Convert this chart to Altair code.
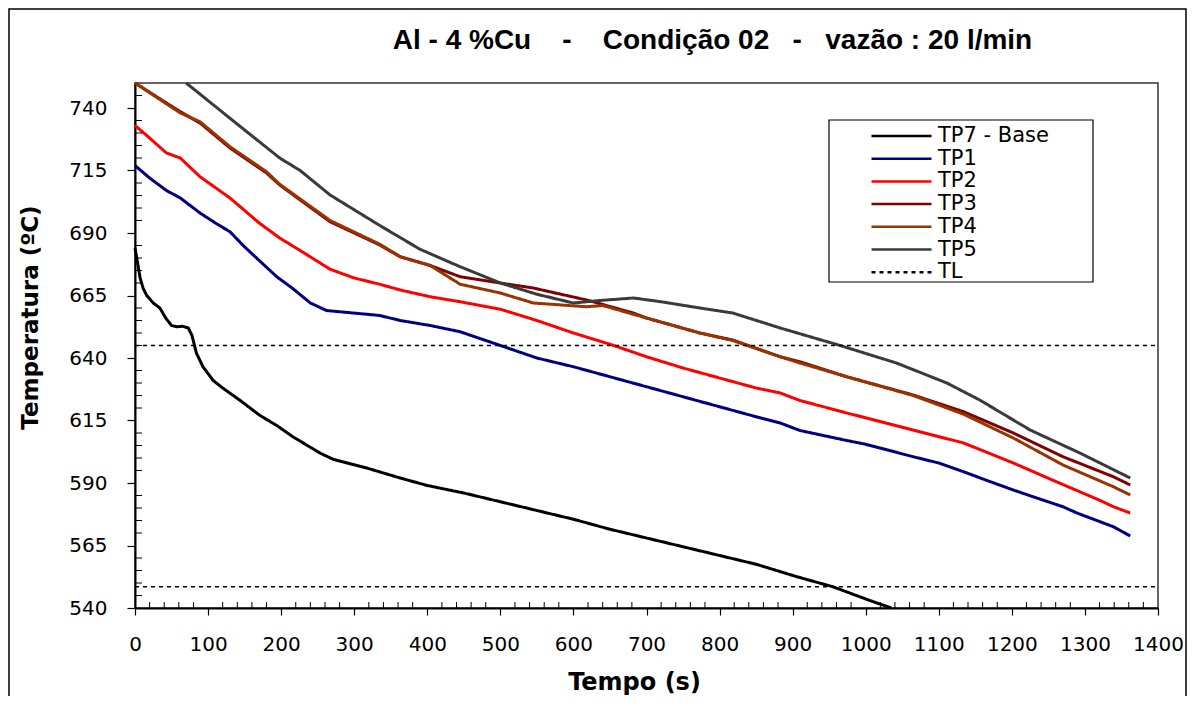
import altair as alt
import pandas as pd

# ---------------- data ----------------
series_names = ["TP7 - Base", "TP1", "TP2", "TP3", "TP4", "TP5", "TL"]
series_colors = ["#000000", "#000080", "#ff0000", "#800000", "#993300", "#3a3a3a", "#000000"]

t_tp7 = [0, 3, 7, 11, 16, 25, 34, 42, 50, 57, 65, 73, 78, 84, 93, 107, 120, 144, 171, 194,
         216, 253, 271, 317, 363, 400, 450, 500, 550, 600, 650, 700, 750, 800, 850, 906,
         955, 1001, 1035]
T_tp7 = [684, 679, 672, 668, 665, 662, 660, 656, 653, 652.5, 652.7, 652, 649, 642, 636.5,
         631, 628, 623, 617, 613, 608.5, 602, 599.5, 596, 592, 589, 586, 582.5, 579, 575.5,
         571.5, 568, 564.5, 561, 557.5, 552.5, 548.5, 543.5, 540]

t_tp1 = [0, 20, 43, 62, 89, 110, 130, 148, 170, 194, 215, 240, 262, 280, 317, 335, 363, 404,
         445, 500, 550, 600, 650, 700, 750, 800, 850, 883, 910, 974, 1000, 1065, 1100, 1134,
         1166, 1202, 1229, 1270, 1289, 1339, 1362]
T_tp1 = [717, 712, 707, 704, 698, 694, 690.5, 685, 679, 672.5, 668, 662, 659, 658.5, 657.5,
         657, 655, 653, 650.5, 645, 640, 636.5, 632.5, 628.5, 624.5, 620.5, 616.5, 614, 611,
         607, 605.5, 600.5, 598, 594.5, 591, 587.2, 584.5, 580.5, 578, 572.5, 568.8]

t_tp2 = [0, 20, 43, 62, 89, 130, 144, 170, 198, 226, 267, 300, 335, 363, 404, 445, 500, 550,
         600, 650, 700, 750, 800, 850, 883, 910, 974, 1065, 1134, 1202, 1257, 1321, 1339, 1362]
T_tp2 = [733, 728, 722, 720, 712.5, 704, 700.5, 694, 688, 683, 675.5, 672, 669.5, 667.2,
         664.5, 662.5, 659.5, 655, 650, 645.5, 640.5, 636, 632, 628, 626, 623, 618, 611.2,
         606, 598, 591, 583, 580.5, 578]

t_tp3 = [0, 62, 89, 130, 180, 198, 267, 335, 363, 404, 445, 500, 545, 618, 682, 700, 773,
         818, 883, 910, 974, 1065, 1134, 1202, 1270, 1339, 1362]
T_tp3 = [750, 738.5, 734, 724, 714, 709.2, 694.5, 685.2, 680.5, 677, 672.5, 670, 668, 663.2,
         658, 656, 650, 647.2, 640.5, 638.5, 632.5, 625.2, 618.5, 610, 600.5, 592.5, 589.2]

t_tp4 = [0, 62, 89, 130, 180, 198, 267, 335, 363, 404, 445, 500, 545, 618, 640, 682, 700,
         773, 818, 883, 910, 974, 1065, 1134, 1202, 1270, 1339, 1362]
T_tp4 = [750, 738, 734.5, 724.5, 714.5, 709.5, 695, 685.5, 680.5, 677, 669.5, 666, 662,
         660.5, 661, 657.5, 656, 650, 647, 640.5, 638, 632.5, 625, 617.5, 608, 597.2, 588.5,
         585.2]

t_tp5 = [70, 130, 198, 226, 267, 335, 390, 445, 500, 550, 600, 636, 682, 720, 773, 818, 883,
         965, 1042, 1111, 1156, 1225, 1293, 1362]
T_tp5 = [750, 735.9, 720, 715, 705.2, 693, 683.5, 676.5, 670, 665.5, 662, 663, 664, 662.5,
         660, 658, 652, 645, 638, 630, 623.2, 611.2, 602, 592]

tl_levels = [645, 548.5]
tl_span = [0, 1400]

x_ticks = list(range(0, 1401, 100))
y_ticks = list(range(540, 741, 25))
x_minor = [v for v in range(20, 1400, 20) if v % 100 != 0]
y_minor = [v for v in range(545, 750, 5) if (v - 540) % 25 != 0]

title_text = ("Al - 4 %Cu" + "\u00a0" * 4 + "-" + "\u00a0" * 4 + "Condição 02"
              + "\u00a0" * 3 + "-" + "\u00a0" * 3 + "vazão : 20 l/min")

# ---------------- tables ----------------
rows = []
for name, ts, vs in zip(series_names[:6],
                        [t_tp7, t_tp1, t_tp2, t_tp3, t_tp4, t_tp5],
                        [T_tp7, T_tp1, T_tp2, T_tp3, T_tp4, T_tp5]):
    for t, v in zip(ts, vs):
        rows.append({"serie": name, "t": t, "T": v})
df = pd.DataFrame(rows)

tl_rows = []
for i, lvl in enumerate(tl_levels):
    for t in tl_span:
        tl_rows.append({"serie": "TL", "seg": i, "t": t, "T": lvl})
tl_df = pd.DataFrame(tl_rows)

W, H = 1023, 525

X_SCALE = alt.Scale(domain=[0, 1400], nice=False, zero=False)
Y_SCALE = alt.Scale(domain=[540, 750], nice=False, zero=False)

X_AXIS = alt.Axis(values=x_ticks, title="Tempo (s)", grid=False, tickSize=7, format="d",
                  labelPadding=19, titlePadding=16, labelFlush=False,
                  titleX=499, titleAlign="center")
Y_AXIS = alt.Axis(values=y_ticks, title="Temperatura (ºC)", grid=False, tickSize=8,
                  format="d", labelPadding=20, titleX=-98, titleY=234, titleAngle=270,
                  titleBaseline="alphabetic", titleAlign="center")

LEG = alt.Legend(title=None, orient="none", legendX=694, legendY=38)

color = alt.Color("serie:N", scale=alt.Scale(domain=series_names, range=series_colors),
                  legend=LEG)
dash = alt.StrokeDash("serie:N",
                      scale=alt.Scale(domain=series_names,
                                      range=[[1, 0]] * 6 + [[4, 4]]),
                      legend=LEG)

one = pd.DataFrame({"k": [0]})

outer = alt.Chart(one).mark_rect(filled=False, stroke="#000000", strokeWidth=1.5).encode(
    x=alt.value(-126), x2=alt.value(1051), y=alt.value(-74), y2=alt.value(640))

legend_box = alt.Chart(one).mark_rect(fill="white", stroke="#000000", strokeWidth=1.2).encode(
    x=alt.value(694), x2=alt.value(958), y=alt.value(37), y2=alt.value(199))

lines = alt.Chart(df).mark_line(strokeWidth=3, strokeJoin="round").encode(
    x=alt.X("t:Q", scale=X_SCALE, axis=X_AXIS),
    y=alt.Y("T:Q", scale=Y_SCALE, axis=Y_AXIS),
    color=color, strokeDash=dash)

tl = alt.Chart(tl_df).mark_line(strokeWidth=1.5).encode(
    x=alt.X("t:Q", scale=X_SCALE, axis=X_AXIS),
    y=alt.Y("T:Q", scale=Y_SCALE, axis=Y_AXIS),
    color=color, strokeDash=dash, detail="seg:N")

minor_y = alt.Chart(pd.DataFrame({"v": y_minor})).mark_rule(color="#000000", strokeWidth=1).encode(
    y=alt.Y("v:Q", scale=Y_SCALE, axis=Y_AXIS), x=alt.value(0), x2=alt.value(7))

minor_x = alt.Chart(pd.DataFrame({"v": x_minor})).mark_rule(color="#000000", strokeWidth=1).encode(
    x=alt.X("v:Q", scale=X_SCALE, axis=X_AXIS), y=alt.value(H - 6), y2=alt.value(H))

title = alt.Chart(pd.DataFrame({"txt": [title_text]})).mark_text(
    font="Liberation Sans", fontSize=28, fontWeight="bold", align="center",
    baseline="alphabetic", color="#000000").encode(
    text="txt:N", x=alt.value(W / 2 + 66), y=alt.value(-34))

chart = alt.layer(outer, legend_box, lines, tl, minor_y, minor_x, title).properties(
    width=W, height=H,
    padding={"left": 127, "top": 75, "right": 29, "bottom": 88},
    autosize=alt.AutoSizeParams(type="none"),
    background="white",
).configure_view(
    stroke="#333333", strokeWidth=1.5
).configure_axis(
    domainColor="#000000", domainWidth=2, tickColor="#000000", tickWidth=1.2,
    labelFont="DejaVu Sans", labelFontSize=20, labelColor="#000000",
    titleFont="DejaVu Sans", titleFontSize=23, titleFontWeight="bold", titleColor="#000000",
).configure_axisX(titleFontSize=24).configure_legend(
    padding=5, symbolType="stroke", symbolSize=3600, symbolStrokeWidth=2.5,
    symbolOffset=36, labelOffset=5, clipHeight=20, rowPadding=1.7,
    labelFont="DejaVu Sans", labelFontSize=21, labelColor="#000000", labelLimit=400,
)

chart.save("out.html", embed_options={"renderer": "svg", "actions": False})
